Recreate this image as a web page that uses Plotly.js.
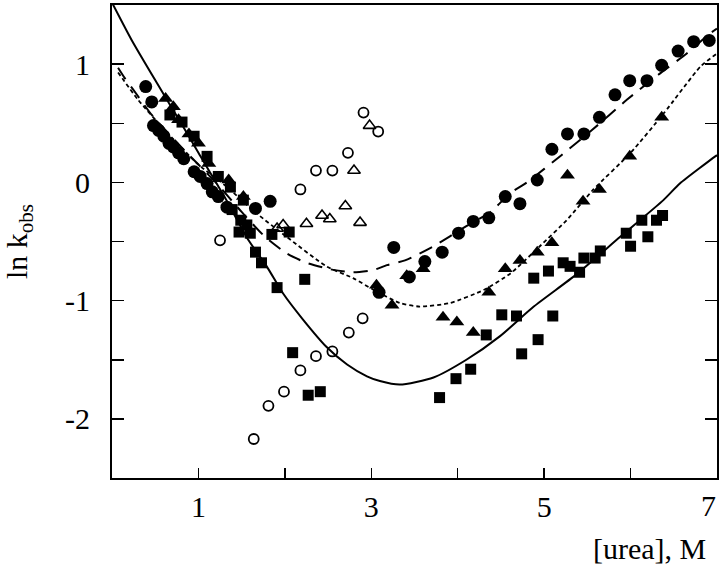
<!DOCTYPE html>
<html>
<head>
<meta charset="utf-8">
<script src="https://cdn.plot.ly/plotly-3.0.1.min.js"></script>
<style>html,body{margin:0;padding:0;background:#fff;}#chart{width:720px;height:564px;}</style>
</head>
<body>
<div id="chart"></div>
<script>
// Filled circles
const circX = [0.39,0.46,0.48,0.54,0.60,0.66,0.71,0.77,0.83,0.95,1.02,1.10,1.16,1.23,1.33,1.66,1.83,3.09,3.26,3.44,3.62,3.82,4.01,4.18,4.36,4.55,4.72,4.92,5.09,5.27,5.46,5.64,5.82,5.99,6.19,6.36,6.55,6.73,6.91];
const circY = [0.81,0.68,0.48,0.44,0.39,0.33,0.30,0.25,0.20,0.09,0.05,-0.01,-0.08,-0.12,-0.21,-0.22,-0.16,-0.93,-0.55,-0.80,-0.67,-0.59,-0.43,-0.33,-0.30,-0.12,-0.18,0.02,0.28,0.41,0.41,0.55,0.74,0.86,0.86,0.99,1.11,1.19,1.20];
// Filled triangles
const triX = [0.62,0.71,0.77,0.89,1.00,1.12,1.35,1.52,3.06,3.24,3.41,3.60,3.83,3.99,4.18,4.36,4.55,4.72,4.92,5.09,5.27,5.45,5.64,5.99,6.36];
const triY = [0.71,0.64,0.53,0.41,0.33,0.16,0.02,-0.12,-0.87,-1.04,-0.79,-0.73,-1.14,-1.18,-1.27,-0.93,-0.73,-0.66,-0.59,-0.51,0.06,-0.16,-0.06,0.22,0.55];
// Filled squares
const sqX = [0.67,0.81,0.95,1.10,1.23,1.37,1.52,1.39,1.49,1.56,1.47,1.60,1.66,1.73,1.85,1.91,2.05,2.09,2.23,2.27,2.41,3.79,3.98,4.15,4.33,4.51,4.68,4.74,4.88,4.93,5.05,5.10,5.22,5.30,5.41,5.46,5.59,5.65,5.95,6.00,6.13,6.20,6.30,6.37];
const sqY = [0.57,0.51,0.39,0.22,0.05,-0.04,-0.15,-0.23,-0.32,-0.36,-0.42,-0.43,-0.59,-0.68,-0.44,-0.89,-0.42,-1.44,-0.82,-1.80,-1.77,-1.82,-1.66,-1.58,-1.29,-1.12,-1.13,-1.45,-0.81,-1.33,-0.75,-1.13,-0.68,-0.71,-0.76,-0.64,-0.64,-0.58,-0.43,-0.54,-0.32,-0.46,-0.32,-0.28];
// Open circles
const ocX = [1.25,1.64,1.81,1.99,2.18,2.36,2.55,2.74,2.90,2.18,2.36,2.55,2.73,2.91,3.08];
const ocY = [-0.49,-2.17,-1.89,-1.77,-1.59,-1.47,-1.43,-1.27,-1.15,-0.06,0.10,0.10,0.25,0.59,0.43];
// Open triangles
const otX = [1.91,1.98,2.25,2.43,2.52,2.70,2.80,2.87,2.98];
const otY = [-0.39,-0.36,-0.35,-0.28,-0.31,-0.20,0.10,-0.34,0.48];
// Fit curves
const dashX = [0.07,0.15,0.31,0.46,0.80,1.20,1.50,1.77,2.02,2.25,2.56,2.79,3.03,3.18,3.39,3.72,4.10,4.38,4.61,4.80,5.20,5.55,5.96,6.32,6.65,6.92,7.0];
const dashY = [0.97,0.88,0.72,0.57,0.30,0.00,-0.25,-0.46,-0.60,-0.68,-0.74,-0.76,-0.74,-0.70,-0.66,-0.54,-0.37,-0.25,-0.09,0.00,0.23,0.44,0.70,0.91,1.09,1.26,1.30];
const dotX = [0.07,0.30,0.60,1.00,1.30,1.67,2.02,2.48,2.79,3.03,3.33,3.56,3.91,4.30,4.61,4.95,5.26,5.57,6.00,6.38,6.81,7.0];
const dotY = [0.93,0.70,0.45,0.15,-0.02,-0.26,-0.46,-0.71,-0.81,-0.91,-1.02,-1.05,-1.02,-0.91,-0.77,-0.54,-0.32,-0.06,0.25,0.58,0.98,1.09];
const solX = [0.00,0.23,0.52,0.80,1.00,1.30,1.58,1.79,1.98,2.21,2.48,2.72,2.95,3.10,3.33,3.72,4.10,4.49,4.88,5.37,5.88,6.38,6.57,6.98,7.0];
const solY = [1.52,1.20,0.84,0.50,0.25,-0.12,-0.49,-0.71,-0.94,-1.16,-1.39,-1.54,-1.64,-1.68,-1.71,-1.65,-1.50,-1.30,-1.05,-0.78,-0.46,-0.15,-0.01,0.22,0.23];

const xTickVals = [1,3,5];
const xTickText = ['1','3','5'];
const xEdgeTick = 7;
const xEdgeLabel = '7';   // last x tick label, kept inside the figure edge
const yTickVals = [-2,-1,0,1];
const yTickText = ['-2','-1','0','1'];

const FONT = 'Liberation Serif, Times New Roman, serif';
const traces = [
  {x: solX, y: solY, mode:'lines', line:{color:'#000', width:2, dash:'solid', shape:'spline', smoothing:0.6}, hoverinfo:'skip'},
  {x: dashX, y: dashY, mode:'lines', line:{color:'#000', width:2, dash:'14px,9px', shape:'spline', smoothing:0.6}, hoverinfo:'skip'},
  {x: dotX, y: dotY, mode:'lines', line:{color:'#000', width:1.8, dash:'4px,3px', shape:'spline', smoothing:0.6}, hoverinfo:'skip'},
  {x: ocX, y: ocY, mode:'markers', marker:{symbol:'circle-open', size:10, color:'#000', line:{width:1.8, color:'#000'}}},
  {x: otX, y: otY, mode:'markers', marker:{symbol:'triangle-up-open', size:11, color:'#000', line:{width:1.6, color:'#000'}}},
  {x: sqX, y: sqY, mode:'markers', marker:{symbol:'square', size:11, color:'#000'}},
  {x: triX, y: triY, mode:'markers', marker:{symbol:'triangle-up', size:13, color:'#000'}},
  {x: circX, y: circY, mode:'markers', marker:{symbol:'circle', size:13, color:'#000'}}
];

const layout = {
  width: 720, height: 564,
  margin: {l:112, r:3, t:5, b:86},
  showlegend: false,
  paper_bgcolor:'#fff', plot_bgcolor:'#fff',
  font: {family: FONT, color:'#000'},
  xaxis: {
    range:[0,7], tickmode:'array', tickvals:xTickVals, ticktext:xTickText,
    ticks:'inside', ticklen:10, tickwidth:1.5, tickcolor:'#000',
    minor:{ticks:'inside', tick0:0, dtick:1, ticklen:10, tickwidth:1.5, tickcolor:'#000', showgrid:false},
    showline:true, linewidth:2, linecolor:'#000', mirror:true,
    showgrid:false, zeroline:false,
    tickfont:{family:FONT, size:30, color:'#000'}, ticklabelstandoff:1
  },
  yaxis: {
    range:[-2.5,1.5], tickmode:'array', tickvals:yTickVals, ticktext:yTickText,
    ticks:'inside', ticklen:12, tickwidth:1.5, tickcolor:'#000',
    minor:{ticks:'inside', tick0:0, dtick:0.5, ticklen:12, tickwidth:1.5, tickcolor:'#000', showgrid:false},
    showline:true, linewidth:2, linecolor:'#000', mirror:'ticks',
    showgrid:false, zeroline:false,
    tickfont:{family:FONT, size:30, color:'#000'}, ticklabelstandoff:14,
    title:{text:'ln k<sub>obs</sub>\u00a0\u00a0\u00a0\u00a0', font:{family:FONT, size:30, color:'#000'}, standoff:30}
  },
  annotations: [
    {text:xEdgeLabel, xref:'x', yref:'paper', x:xEdgeTick, y:-0.058, xanchor:'right', yanchor:'middle', xshift:1,
     showarrow:false, font:{family:FONT, size:30, color:'#000'}},
    {text:'[urea], M', xref:'paper', yref:'paper', x:0.985, y:-0.148, xanchor:'right', yanchor:'middle',
     showarrow:false, font:{family:FONT, size:30, color:'#000'}}
  ]
};

Plotly.newPlot('chart', traces, layout, {displayModeBar:false, staticPlot:true});
</script>
</body>
</html>
